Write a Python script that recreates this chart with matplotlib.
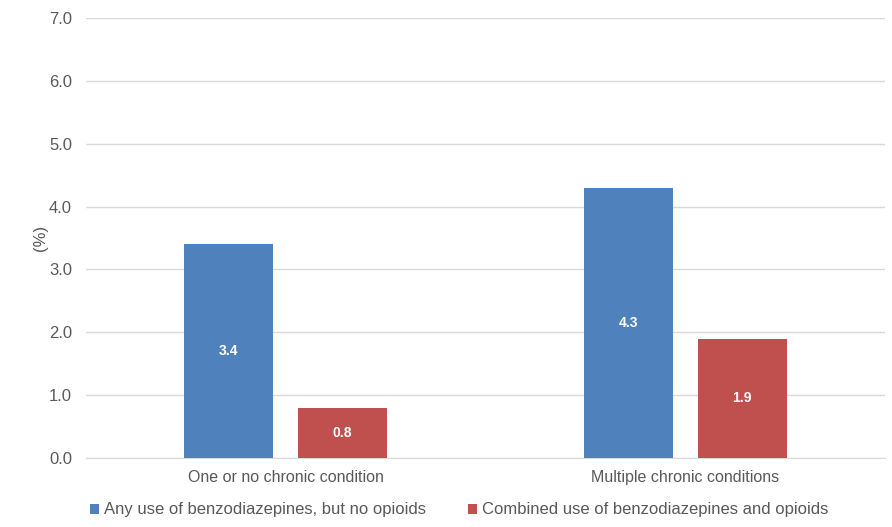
import matplotlib.pyplot as plt
import numpy as np

plt.rcParams['font.family'] = ['Liberation Sans', 'DejaVu Sans']

categories = ["One or no chronic condition", "Multiple chronic conditions"]
series_names = ["Any use of benzodiazepines, but no opioids",
                "Combined use of benzodiazepines and opioids"]
benzo_only = [3.4, 4.3]
benzo_opioids = [0.8, 1.9]
yticks = [0.0, 1.0, 2.0, 3.0, 4.0, 5.0, 6.0, 7.0]

blue = '#4F81BD'
red = '#C0504D'
grey = '#595959'

fig = plt.figure(figsize=(8.92, 5.27), dpi=100)
ax = fig.add_axes([0.0964, 0.131, 0.8956, 0.835])

x = np.arange(len(categories))
w = 0.223
off = 0.1427
b1 = ax.bar(x - off, benzo_only, w, color=blue, label=series_names[0], zorder=3)
b2 = ax.bar(x + off, benzo_opioids, w, color=red, label=series_names[1], zorder=3)

for bars in (b1, b2):
    for r in bars:
        h = r.get_height()
        ax.text(r.get_x() + r.get_width() / 2, h / 2, f"{h:.1f}",
                ha='center', va='center', color='white', fontsize=10,
                fontweight='bold', zorder=4)

ax.set_xlim(-0.5, 1.5)
ax.set_ylim(0, 7.0)
ax.set_yticks(yticks)
ax.set_yticklabels([f"{v:.1f}" for v in yticks])
ax.set_xticks(x)
ax.set_xticklabels(categories)
ax.tick_params(length=0, colors=grey, labelsize=12)
ax.tick_params(axis='x', pad=9, labelsize=11.5)
ax.tick_params(axis='y', pad=10)
ax.grid(axis='y', color='#D9D9D9', linewidth=1, zorder=0)
for s in ['top', 'right', 'left']:
    ax.spines[s].set_visible(False)
ax.spines['bottom'].set_color('#D9D9D9')
ax.set_ylabel("(%)", color=grey, fontsize=12, labelpad=1)

ax.legend(loc='upper left', bbox_to_anchor=(-0.003, -0.086), ncol=2, frameon=False,
          fontsize=12, labelcolor=grey, handlelength=0.55, handleheight=0.55,
          handletextpad=0.3, columnspacing=2.5, borderaxespad=0)

plt.savefig("out.png", dpi=100)
